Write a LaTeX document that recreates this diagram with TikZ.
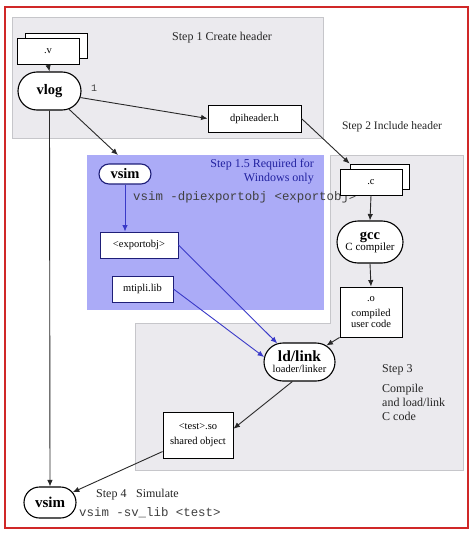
\documentclass[tikz,border=0pt]{standalone}
\usepackage{fontspec}
\setmainfont{Liberation Serif}
\setmonofont{Liberation Mono}
\usetikzlibrary{shapes.misc,arrows.meta}
\definecolor{bggray}{HTML}{EBEAEE}
\definecolor{bgline}{HTML}{C6C6CA}
\definecolor{bluebg}{HTML}{ABABF7}
\definecolor{bluetext}{HTML}{2222A0}
\definecolor{darkblue}{HTML}{1E1E78}
\definecolor{lineblue}{HTML}{3A3AC8}
\definecolor{framered}{HTML}{D02828}
\definecolor{arrgray}{HTML}{282828}
\definecolor{monogray}{HTML}{404040}
\tikzset{
  stepbg/.style={fill=bggray, draw=bgline, line width=0.8pt},
  filebox/.style={draw=black, fill=white, line width=0.9pt, inner sep=1pt, align=center},
  bluebox/.style={draw=darkblue, fill=white, line width=0.9pt, inner sep=1pt, align=center},
  pill/.style={rounded rectangle, draw=black, fill=white, line width=1.1pt, inner sep=1pt, align=center},
  arr/.style={draw=arrgray, line width=0.9pt, -{Latex[length=6.5pt,width=5.5pt]}},
  bluearr/.style={draw=lineblue, line width=0.9pt, -{Latex[length=6.5pt,width=5.5pt]}},
  steplabel/.style={inner sep=0pt, font=\fontsize{11.5}{13}\selectfont, text=black!85},
  mono/.style={inner sep=0pt, font=\ttfamily\fontsize{12.4}{14}\selectfont, text=monogray}
}
\newcommand{\nfont}{\fontsize{10.5}{12.5}\selectfont}
\newcommand{\bfont}{\bfseries\fontsize{14.5}{16}\selectfont}
\begin{document}
\begin{tikzpicture}[x=1pt,y=-1pt]
\useasboundingbox (0,0) rectangle (474,535);
\fill[white] (0,0) rectangle (474,535);
\draw[framered, line width=1.5pt] (5,7) rectangle (468,528);

% regions
\draw[stepbg] (12,17) rectangle (323,138);
\fill[bluebg] (87,155) rectangle (324,310);
\draw[stepbg] (330,155) -- (463,155) -- (463,470) -- (135,470) -- (135,323) -- (330,323) -- cycle;

% region labels
\node[steplabel, font=\fontsize{12}{14}\selectfont] (t1) at (222,38) {Step 1 Create header};
\node[steplabel] (t2) at (392,127) {Step 2 Include header};
\node[steplabel, anchor=north east, align=right, text=bluetext, font=\fontsize{12}{14}\selectfont] (t15) at (314,159) {Step 1.5 Required for\\Windows only};
\node[steplabel, anchor=north west, align=left, font=\fontsize{12}{14}\selectfont] (t3) at (382,364) {Step 3\\[6pt]Compile\\and load/link\\C code};
\node[steplabel, anchor=west, font=\fontsize{12}{14}\selectfont] (t4) at (96,495) {Step 4\hspace{0.8em}Simulate};
\node[mono, anchor=west] (c15) at (133,197) {vsim -dpiexportobj <exportobj>};
\node[mono, anchor=west] (c4) at (79,513) {vsim -sv\_lib <test>};

% nodes
\node[filebox, minimum width=62pt, minimum height=25pt] (vback) at (56,45.5) {};
\node[filebox, minimum width=62pt, minimum height=26pt, font=\nfont] (vfile) at (48,51) {.v};
\node[pill, minimum width=65pt, minimum height=38pt, font=\bfont] (vlog) at (49.5,91) {vlog};
\node[filebox, minimum width=93pt, minimum height=27pt, font=\nfont] (dpi) at (254.5,118.5) {dpiheader.h};

\node[pill, minimum width=54pt, minimum height=20pt, font=\bfont, draw=darkblue] (vsimA) at (125,174) {vsim};
\node[bluebox, minimum width=78pt, minimum height=26pt, font=\nfont] (expo) at (139,245) {<exportobj>};
\node[bluebox, minimum width=61pt, minimum height=26pt, font=\nfont] (mti) at (142.5,289) {mtipli.lib};

\node[filebox, minimum width=59pt, minimum height=25pt] (cback) at (379.5,176.5) {};
\node[filebox, minimum width=62pt, minimum height=26pt, font=\nfont] (cfile) at (371,182) {.c};
\node[pill, minimum width=68pt, minimum height=42pt] (gcc) at (370,242) {{\bfont gcc}\\[-1pt]{\fontsize{11}{13}\selectfont C compiler}};
\node[filebox, minimum width=62pt, minimum height=50pt, font=\nfont] (ofile) at (371,312) {.o\\[3pt]compiled\\[-2pt]user code};

\node[pill, minimum width=73pt, minimum height=38pt] (ld) at (299.5,362) {{\bfseries\fontsize{15.5}{17}\selectfont ld/link}\\[-1pt]{\fontsize{10.5}{12}\selectfont loader/linker}};
\node[filebox, minimum width=70pt, minimum height=46pt, font=\nfont] (so) at (198,435) {<test>.so\\[2pt]shared object};
\node[pill, minimum width=54pt, minimum height=31pt, font=\bfseries\fontsize{15}{17}\selectfont] (vsimB) at (50,502.5) {vsim};

\coordinate (bluein) at (118,155);
\node[inner sep=0pt, font=\ttfamily\fontsize{10}{11}\selectfont, text=monogray] (one) at (94,88) {1};

% connectors
\draw[arr] (vfile.south) -- (vlog.north);
\draw[arr] (vlog.-12) -- (dpi.west);
\draw[arr] (vlog) -- (bluein);
\draw[arr] (vlog.south) -- (vsimB.north);
\draw[arr] (dpi.east) -- (cback.north west);
\draw[arr] (cfile.south) -- (gcc.north);
\draw[arr] (gcc.south) -- (ofile.north);
\draw[arr] (ofile.south west) -- (ld);
\draw[bluearr] (vsimA.south) -- (vsimA.south |- expo.north);
\draw[bluearr] (expo.east) -- (ld.140);
\draw[bluearr] (mti.east) -- (ld.172);
\draw[arr] (ld.250) -- (so.10);
\draw[arr] (so.-155) -- (vsimB);
\end{tikzpicture}
\end{document}
